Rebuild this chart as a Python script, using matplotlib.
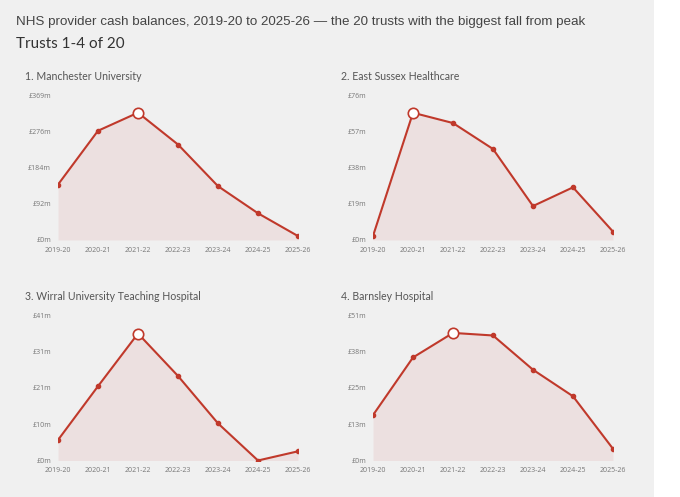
import matplotlib
matplotlib.use("Agg")
import matplotlib.pyplot as plt
import numpy as np
from matplotlib.patches import Rectangle

years = ["2019-20", "2020-21", "2021-22", "2022-23", "2023-24", "2024-25", "2025-26"]
trusts = ["1. Manchester University", "2. East Sussex Healthcare",
          "3. Wirral University Teaching Hospital", "4. Barnsley Hospital"]
manchester = [141, 278, 324, 243, 137, 68, 10]
east_sussex = [2.1, 66.7, 61.3, 47.7, 17.8, 27.6, 4.4]
wirral = [5.8, 21.0, 35.9, 23.9, 10.5, 0.0, 2.6]
barnsley = [15.9, 36.1, 44.7, 43.8, 31.8, 22.5, 4.1]
series = [manchester, east_sussex, wirral, barnsley]
y_max = [369, 76, 41, 50.8]
y_tick_labels = [["£0m", "£92m", "£184m", "£276m", "£369m"],
                 ["£0m", "£19m", "£38m", "£57m", "£76m"],
                 ["£0m", "£10m", "£21m", "£31m", "£41m"],
                 ["£0m", "£13m", "£25m", "£38m", "£51m"]]

W, H = 680, 497
fig = plt.figure(figsize=(W / 100, H / 100), dpi=100)
fig.patch.set_facecolor("white")
fig.patches.append(Rectangle((0, 0), 654 / W, 1, transform=fig.transFigure,
                             facecolor="#f0f0f0", edgecolor="none", zorder=-10))

fig.text(16 / W, 1 - 22 / H, "NHS provider cash balances, 2019-20 to 2025-26 — the 20 trusts with the biggest fall from peak",
         fontsize=9.6, color="#444444", family="Liberation Sans", va="center", ha="left")
fig.text(16 / W, 1 - 44 / H, "Trusts 1-4 of 20", fontsize=11, color="#333333",
         family="Lato", va="center", ha="left")

LINE = "#c0392b"
FILL = "#e8c8c8"
TICK = "#777777"

# axes boxes in pixels: (left, right, y_zero, y_top)
boxes = [(58, 298, 240, 95), (373, 613, 240, 95),
         (58, 298, 460.5, 315.5), (373, 613, 460.5, 315.5)]
title_pos = [(25, 76), (341, 76), (25, 296), (341, 296)]

x = np.arange(len(years))
for i in range(4):
    l, r, y0, yt = boxes[i]
    ax = fig.add_axes([l / W, 1 - y0 / H, (r - l) / W, (y0 - yt) / H])
    ax.set_facecolor("none")
    vals = np.array(series[i], dtype=float)
    ax.fill_between(x, 0, vals, color=FILL, alpha=0.4, linewidth=0, zorder=1)
    ax.plot(x, vals, color=LINE, lw=1.5, zorder=2, solid_joinstyle="round")
    pk = int(np.argmax(vals))
    others = [j for j in range(len(vals)) if j != pk]
    ax.plot(x[others], vals[others], "o", color=LINE, ms=3.0, zorder=3)
    ax.plot([x[pk]], [vals[pk]], "o", mfc="white", mec=LINE, mew=1.2, ms=7.5, zorder=4)
    ax.set_xlim(0, 6)
    ax.set_ylim(0, y_max[i])
    ax.set_yticks([y_max[i] * k / 4 for k in range(5)])
    ax.set_yticklabels(y_tick_labels[i])
    ax.set_xticks(x)
    ax.set_xticklabels(years)
    ax.tick_params(axis="both", length=0, labelsize=5, labelcolor=TICK)
    ax.tick_params(axis="y", pad=5)
    ax.tick_params(axis="x", pad=5)
    for lab in ax.get_xticklabels() + ax.get_yticklabels():
        lab.set_family("Open Sans")
    for s in ax.spines.values():
        s.set_visible(False)
    tx, ty = title_pos[i]
    fig.text(tx / W, 1 - ty / H, trusts[i], fontsize=7.6, color="#555555",
             family="Lato", va="center", ha="left")

fig.savefig("out.png", dpi=100, facecolor=fig.get_facecolor())
